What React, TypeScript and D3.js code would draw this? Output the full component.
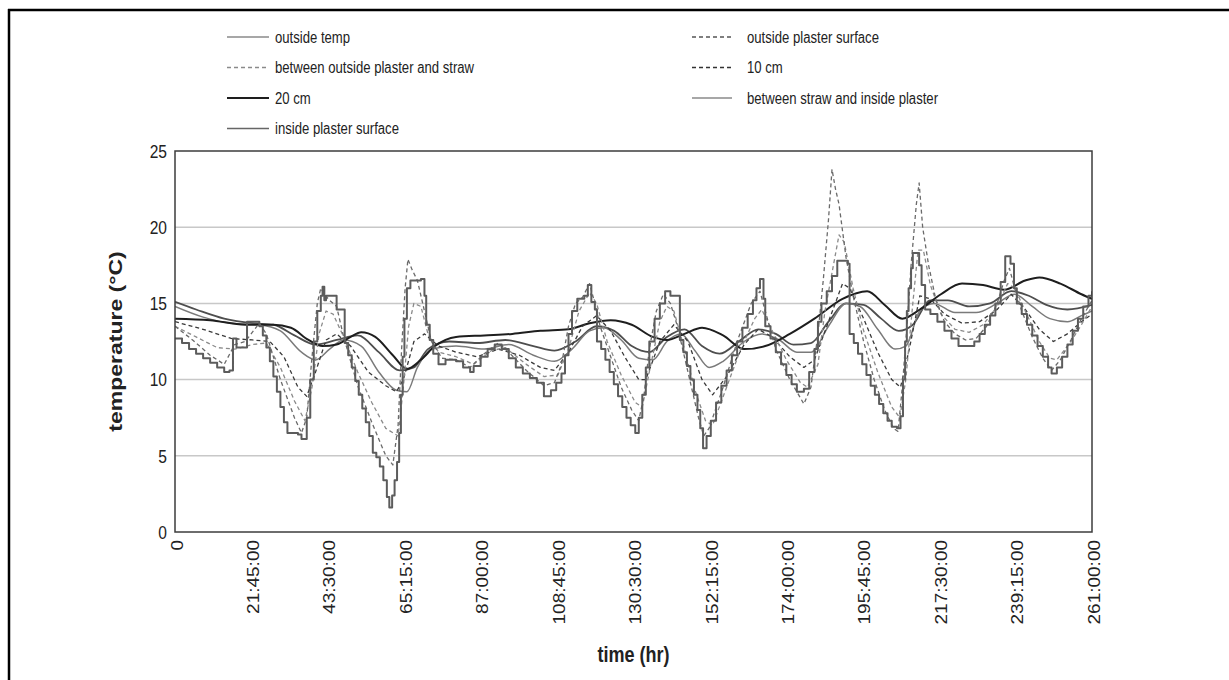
import React, { useEffect, useRef } from "react";
import * as d3 from "d3";

// hours, temperature (°C)
const outsideTemp = [
  [0, 12.7], [2, 12.4], [4, 12.0], [6, 11.7], [8, 11.4], [10, 11.1], [12, 10.8], [14, 10.5], [15.5, 10.6],
  [16.5, 12.7], [17.5, 12.1], [20.5, 13.8], [24, 13.5], [25, 12.9], [26, 12.1], [27, 11.2], [28, 10.2],
  [29, 9.2], [30, 8.2], [31, 7.2], [32, 6.5], [35, 6.4], [36, 6.1], [37.5, 7.5], [38.5, 10.0], [39.5, 12.5],
  [40.5, 14.5], [41.5, 15.5], [42, 16.1], [42.5, 15.2], [43, 15.5], [46, 14.6], [48.3, 12.4], [49.3, 11.6],
  [50.3, 10.8], [51.3, 9.9], [52.3, 9.0], [53.3, 8.1], [54.3, 7.2], [55.3, 6.3], [56.3, 5.2], [57.3, 4.9],
  [58.3, 4.3], [59.3, 3.4], [60.3, 2.3], [61, 1.6], [61.8, 2.4], [62.5, 3.4], [63.2, 4.6], [63.8, 6.5],
  [64.3, 9.0], [64.8, 11.5], [65.3, 14.0], [66, 16.0], [67, 16.5], [70, 16.6], [71, 15.5], [71.5, 13.6],
  [72.5, 12.6], [73.5, 11.7], [75, 11.0], [77, 11.3], [80, 11.2], [82, 10.8], [84, 10.5], [85, 10.9],
  [87, 11.5], [89, 12.0], [91, 12.3], [93, 12.0], [95, 11.4], [97, 10.8], [99, 10.4], [101, 10.1],
  [103, 9.8], [105, 8.9], [107, 9.3], [108.5, 9.8], [110, 10.4], [111, 11.6], [112, 13.0], [113, 14.5],
  [114.5, 15.3], [116.5, 15.5], [117.5, 16.2], [118.5, 15.1], [119.5, 14.6], [120.1, 12.5], [121.3, 12.0],
  [122.5, 11.3], [123.7, 10.5], [124.9, 9.7], [126.1, 8.9], [127.3, 8.2], [128.5, 7.5], [129.7, 7.0],
  [131, 6.5], [132, 7.5], [133, 9.0], [134, 10.8], [135, 12.5], [136.5, 14.0], [138, 15.0], [139.5, 15.8],
  [141, 15.5], [143.7, 12.6], [144.7, 11.8], [145.7, 10.9], [146.7, 10.0], [147.7, 9.0], [148.7, 8.0],
  [149.5, 6.8], [150.3, 5.5], [151.3, 6.3], [152.5, 7.3], [154, 8.5], [155.5, 9.6], [157, 10.6],
  [158.5, 11.6], [160, 12.5], [161.5, 13.4], [163, 14.3], [164.5, 15.2], [165.5, 16.0], [166.5, 16.6],
  [167.5, 15.3], [168, 13.5], [169.5, 12.7], [171, 11.8], [172.5, 11.0], [174, 10.3], [175.5, 9.7],
  [177, 9.2], [179, 9.4], [180.5, 10.5], [182, 12.0], [183, 13.8], [184, 15.0], [185.5, 15.8], [187, 16.8],
  [188.5, 17.8], [191.5, 17.6], [192, 13.0], [193.2, 12.4], [194.4, 11.7], [195.6, 11.0], [196.8, 10.3],
  [198, 9.6], [199.2, 9.0], [200.4, 8.4], [201.6, 7.8], [202.8, 7.3], [204, 6.9], [205.5, 6.8], [206.5, 7.6],
  [207.2, 10.0], [207.8, 12.5], [208.3, 14.5], [208.8, 16.0], [209.5, 17.3], [210, 18.3], [211.8, 17.5],
  [212.5, 16.2], [213.5, 14.6], [215, 14.3], [217, 13.8], [219, 13.2], [221, 12.7], [223, 12.2],
  [227.5, 12.5], [229, 13.0], [230.5, 13.6], [232, 14.2], [233.5, 15.0], [235, 16.4], [236.3, 18.1],
  [237.8, 17.6], [238.8, 16.0], [239.6, 15.0], [241, 14.3], [242.5, 13.6], [244, 12.9], [245.5, 12.2],
  [247, 11.5], [248.5, 10.8], [249.5, 10.4], [251, 10.8], [252.5, 11.5], [254, 12.3], [255.5, 13.2],
  [257, 14.0], [258.5, 14.8], [260, 15.5], [261, 15.8],
];

const outsidePlaster = [
  [0, 13.5], [5, 12.6], [10, 11.6], [14, 11.0], [17, 12.3], [20, 12.5], [24, 13.7], [26, 13.0], [30, 10.0],
  [34, 7.5], [36, 6.5], [37.5, 7.5], [39, 11.5], [40.5, 15.0], [41.5, 16.0], [42.5, 15.6], [44, 15.2],
  [46, 14.8], [48, 12.8], [52, 9.6], [56, 7.2], [60, 5.0], [62, 4.4], [63.5, 7.0], [64.5, 12.0], [65.5, 16.0],
  [66.3, 17.9], [67.5, 17.2], [69, 16.5], [71, 14.5], [73, 12.5], [76, 11.4], [80, 11.3], [84, 10.8],
  [88, 11.7], [92, 12.4], [95, 11.8], [100, 10.6], [105, 9.6], [108, 9.8], [110, 11.0], [112, 13.5],
  [114, 15.0], [116, 15.4], [118, 16.3], [119.5, 15.0], [121, 13.5], [124, 11.5], [127, 9.5], [130, 8.0],
  [132, 7.3], [133.5, 9.0], [135, 12.0], [137, 14.5], [139, 15.6], [141, 15.0], [143, 13.5], [146, 10.5],
  [149, 7.5], [150.5, 6.3], [152, 6.8], [156, 9.5], [160, 12.5], [164, 15.0], [166.5, 15.8], [168, 14.5],
  [171, 12.0], [175, 10.0], [179, 8.4], [181, 9.5], [183, 13.0], [184.5, 16.5], [186, 20.5], [187, 23.8],
  [188, 22.5], [189, 21.5], [191, 18.0], [193, 15.5], [196, 12.5], [199, 10.0], [202, 8.0], [204.5, 6.8],
  [205.8, 6.6], [207, 9.5], [208.5, 14.0], [209.5, 17.5], [211, 21.5], [211.8, 22.9], [212.8, 20.0],
  [214.5, 17.5], [216.5, 15.3], [219, 13.8], [222, 13.0], [225, 12.6], [228, 12.7], [231, 13.5], [234, 15.0],
  [236, 16.5], [237.5, 17.3], [239, 16.0], [241, 14.5], [244, 12.8], [247, 11.4], [249.5, 10.6], [252, 11.3],
  [255, 12.6], [258, 14.0], [261, 15.2],
];

const plasterStraw = [
  [0, 13.5], [6, 12.8], [12, 12.1], [17, 12.0], [22, 12.3], [26, 12.4], [30, 10.8], [34, 8.6], [37, 7.3],
  [39, 9.5], [41, 13.0], [43, 14.5], [45, 14.3], [48, 12.8], [52, 10.5], [56, 8.5], [60, 6.8], [63.5, 6.3],
  [65, 9.5], [66.5, 13.5], [68, 15.0], [70, 14.8], [72, 13.0], [75, 11.8], [80, 11.5], [85, 11.0], [90, 11.9],
  [94, 12.1], [100, 11.0], [105, 10.2], [109, 10.3], [112, 12.0], [115, 14.5], [118, 15.7], [120, 15.0],
  [123, 12.5], [127, 10.3], [131, 8.5], [133, 8.2], [135, 10.5], [138, 13.8], [140, 14.8], [142, 14.5],
  [145, 12.0], [148, 9.3], [151, 7.3], [153, 7.0], [157, 9.5], [161, 12.0], [165, 14.0], [167, 14.6],
  [170, 13.2], [174, 11.3], [178, 9.8], [180, 9.5], [183, 11.0], [185, 14.5], [187, 17.0], [189, 19.5],
  [190.5, 19.0], [193, 16.0], [196, 13.2], [200, 10.5], [204, 8.2], [206.3, 7.5], [208, 10.0], [210, 15.0],
  [211.5, 18.5], [213, 18.5], [215, 16.2], [218, 14.3], [222, 13.3], [226, 13.1], [230, 13.6], [234, 14.8],
  [237, 16.3], [239, 16.0], [242, 14.5], [246, 12.5], [249, 11.4], [251, 11.3], [255, 12.5], [258, 13.6],
  [261, 14.8],
];

const tenCm = [
  [0, 13.8], [8, 13.3], [16, 12.7], [22, 12.6], [27, 12.5], [31, 11.5], [35, 9.5], [37.5, 8.9], [40, 10.5],
  [43, 12.6], [46, 13.0], [50, 12.2], [55, 10.5], [60, 9.6], [63, 9.2], [65, 10.0], [68, 12.5], [71, 13.0],
  [75, 12.2], [80, 11.8], [86, 11.5], [92, 12.0], [98, 11.6], [104, 10.8], [108, 10.6], [112, 11.8],
  [116, 13.5], [120, 14.2], [124, 13.2], [128, 11.5], [132, 10.0], [134, 10.0], [138, 12.5], [142, 13.6],
  [146, 12.5], [150, 10.0], [153, 9.0], [157, 10.2], [162, 12.3], [166, 13.3], [170, 12.8], [175, 11.5],
  [179, 10.8], [182, 11.3], [186, 13.8], [190, 16.3], [192, 16.0], [196, 14.0], [200, 11.8], [204, 10.0],
  [206.5, 9.5], [209, 12.0], [212, 15.5], [215, 15.3], [219, 14.3], [224, 13.7], [229, 13.8], [234, 14.6],
  [238, 15.6], [242, 14.6], [246, 13.3], [250, 12.5], [254, 13.0], [258, 13.8], [261, 14.3],
];

const twentyCm = [
  [0, 14.0], [10, 13.9], [20, 13.6], [28, 13.6], [33, 13.4], [38, 12.6], [42, 12.2], [46, 12.3], [50, 12.8],
  [53, 13.1], [57, 12.8], [62, 11.6], [66, 10.7], [70, 11.3], [74, 12.2], [80, 12.8], [88, 12.9], [96, 13.0],
  [104, 13.2], [112, 13.3], [118, 13.7], [124, 13.9], [130, 13.6], [136, 12.8], [140, 12.6], [145, 13.0],
  [150, 13.4], [156, 12.9], [162, 12.0], [168, 12.2], [175, 13.0], [182, 14.0], [190, 15.3], [197, 15.8],
  [202, 14.9], [207, 14.0], [212, 14.6], [218, 15.6], [224, 16.3], [230, 16.2], [236, 15.9], [242, 16.5],
  [246, 16.7], [252, 16.3], [258, 15.6], [261, 15.3],
];

const strawInside = [
  [0, 14.8], [8, 14.1], [16, 13.7], [24, 13.6], [30, 13.2], [36, 11.8], [40, 11.3], [44, 12.0], [48, 12.6],
  [53, 12.2], [58, 10.5], [63, 9.3], [66, 9.2], [69, 10.8], [73, 12.0], [80, 12.2], [88, 12.0], [95, 12.3],
  [102, 11.6], [108, 11.2], [113, 12.0], [118, 13.2], [122, 13.4], [127, 12.6], [132, 11.4], [136, 11.3],
  [140, 12.5], [144, 13.0], [148, 11.9], [152, 10.8], [156, 11.2], [162, 12.5], [167, 13.0], [172, 12.6],
  [177, 11.8], [181, 11.8], [186, 13.5], [191, 15.0], [195, 14.8], [200, 13.3], [205, 12.0], [208, 12.2],
  [212, 14.5], [216, 15.0], [222, 14.4], [228, 14.4], [234, 15.0], [239, 15.6], [244, 14.8], [249, 14.0],
  [254, 13.8], [258, 14.2], [261, 14.5],
];

const insideSurface = [
  [0, 15.1], [6, 14.6], [14, 14.0], [22, 13.7], [28, 13.6], [34, 12.9], [40, 12.3], [46, 12.6], [52, 12.9],
  [58, 11.8], [64, 10.6], [68, 10.8], [72, 12.0], [78, 12.5], [86, 12.4], [94, 12.6], [102, 12.2], [108, 11.9],
  [114, 12.5], [120, 13.5], [125, 13.2], [130, 12.2], [135, 11.8], [140, 12.8], [145, 13.3], [150, 12.2],
  [155, 11.7], [161, 12.6], [166, 13.3], [171, 13.0], [176, 12.3], [181, 12.4], [186, 13.8], [191, 15.0],
  [196, 14.9], [201, 14.0], [206, 13.2], [210, 13.6], [215, 15.2], [220, 15.2], [226, 14.8], [232, 15.0],
  [238, 15.8], [243, 15.5], [248, 14.9], [254, 14.6], [261, 14.9],
];

const xTickLabels = [
  "0", "21:45:00", "43:30:00", "65:15:00", "87:00:00", "108:45:00", "130:30:00",
  "152:15:00", "174:00:00", "195:45:00", "217:30:00", "239:15:00", "261:00:00",
];
const yTicks = [0, 5, 10, 15, 20, 25];

const series = [
  { name: "outside temp", data: outsideTemp, color: "#5c5c5c", width: 2, dash: null, step: true, legend: "#8a8a8a" },
  { name: "outside plaster surface", data: outsidePlaster, color: "#6a6a6a", width: 1.3, dash: "4,3", step: false, legend: "#555" },
  { name: "between outside plaster and straw", data: plasterStraw, color: "#8a8a8a", width: 1.3, dash: "4,3", step: false, legend: "#8a8a8a" },
  { name: "10 cm", data: tenCm, color: "#3a3a3a", width: 1.3, dash: "4,3", step: false, legend: "#333" },
  { name: "20 cm", data: twentyCm, color: "#1e1e1e", width: 2, dash: null, step: false, legend: "#1e1e1e" },
  { name: "between straw and inside plaster", data: strawInside, color: "#7a7a7a", width: 1.5, dash: null, step: false, legend: "#8a8a8a" },
  { name: "inside plaster surface", data: insideSurface, color: "#4e4e4e", width: 1.8, dash: null, step: false, legend: "#666" },
];

const SQ = 0.82; // the original figure is squeezed horizontally

export default function App() {
  const ref = useRef<SVGSVGElement>(null);

  useEffect(() => {
    const svg = d3.select(ref.current);
    svg.selectAll("*").remove();

    const left = 175, right = 1092, top = 151, bottom = 532;
    const x = d3.scaleLinear().domain([0, 261]).range([left, right]);
    const y = d3.scaleLinear().domain([0, 25]).range([bottom, top]);
    const font = "'Liberation Sans', Arial, sans-serif";

    // frame of the figure (left and top only)
    svg.append("line").attr("x1", 9).attr("x2", 9).attr("y1", 9).attr("y2", 680)
      .attr("stroke", "#000").attr("stroke-width", 2.5);
    svg.append("line").attr("x1", 8).attr("x2", 1229).attr("y1", 10).attr("y2", 10)
      .attr("stroke", "#000").attr("stroke-width", 2.5);

    // gridlines
    svg.append("g").selectAll("line")
      .data(yTicks.filter((d) => d > 0 && d < 25))
      .enter().append("line")
      .attr("x1", left).attr("x2", right)
      .attr("y1", (d) => y(d)).attr("y2", (d) => y(d))
      .attr("stroke", "#c8c8c8").attr("stroke-width", 1.5);

    // y tick labels
    svg.append("g").selectAll("text")
      .data(yTicks)
      .enter().append("text")
      .attr("transform", (d) => `translate(167,${y(d)}) scale(${SQ},1)`)
      .attr("text-anchor", "end")
      .attr("dy", "0.36em")
      .style("font-family", font).style("font-size", "19px").attr("fill", "#222")
      .text((d) => d);

    // x tick labels, vertical
    svg.append("g").selectAll("text")
      .data(xTickLabels)
      .enter().append("text")
      .attr("transform", (d, i) => `translate(${x(i * 21.75) + 2},540) scale(${SQ},1) rotate(-90)`)
      .attr("text-anchor", "end")
      .attr("dy", "0.36em")
      .style("font-family", font).style("font-size", "19px").attr("fill", "#222")
      .text((d) => d);

    // series
    const clip = svg.append("clipPath").attr("id", "plotclip");
    clip.append("rect").attr("x", left).attr("y", top).attr("width", right - left).attr("height", bottom - top);
    const lines = svg.append("g").attr("clip-path", "url(#plotclip)");
    [...series].reverse().forEach((s) => {
      const gen = d3.line<number[]>()
        .x((d) => x(d[0]))
        .y((d) => y(d[1]))
        .curve(s.step ? d3.curveStepAfter : s.dash ? d3.curveLinear : d3.curveMonotoneX);
      lines.append("path")
        .datum(s.data)
        .attr("fill", "none")
        .attr("stroke", s.color)
        .attr("stroke-width", s.width)
        .attr("stroke-dasharray", s.dash)
        .attr("stroke-linejoin", "round")
        .attr("d", gen);
    });

    // plot border
    svg.append("rect")
      .attr("x", left).attr("y", top).attr("width", right - left).attr("height", bottom - top)
      .attr("fill", "none").attr("stroke", "#3c3c3c").attr("stroke-width", 1.5);

    // axis titles
    svg.append("text")
      .attr("transform", `translate(${(left + right) / 2},662) scale(${SQ},1)`)
      .attr("text-anchor", "middle")
      .style("font-family", font).style("font-size", "22px").style("font-weight", "bold").attr("fill", "#222")
      .text("time (hr)");
    svg.append("text")
      .attr("transform", `translate(122,${(top + bottom) / 2}) scale(${SQ},1) rotate(-90)`)
      .attr("text-anchor", "middle")
      .style("font-family", font).style("font-size", "23px").style("font-weight", "bold").attr("fill", "#222")
      .text("temperature (°C)");

    // legend, two columns
    const legend = svg.append("g");
    series.forEach((s, i) => {
      const col = i % 2;
      const row = Math.floor(i / 2);
      const lx = col === 0 ? 227 : 692;
      const lw = col === 0 ? 42 : 40;
      const tx = col === 0 ? 275 : 747;
      const ly = 37 + row * 30.5;
      legend.append("line")
        .attr("x1", lx).attr("x2", lx + lw).attr("y1", ly).attr("y2", ly)
        .attr("stroke", s.legend)
        .attr("stroke-width", s.name === "20 cm" ? 2 : 1.3)
        .attr("stroke-dasharray", s.dash);
      legend.append("text")
        .attr("transform", `translate(${tx},${ly}) scale(${SQ},1)`)
        .attr("dy", "0.36em")
        .style("font-family", font).style("font-size", "16px").attr("fill", "#222")
        .text(s.name);
    });
  }, []);

  return (
    <div style={{ position: "absolute", left: 0, top: 0, background: "#fff" }}>
      <svg ref={ref} width={1229} height={680} style={{ display: "block" }} />
    </div>
  );
}
